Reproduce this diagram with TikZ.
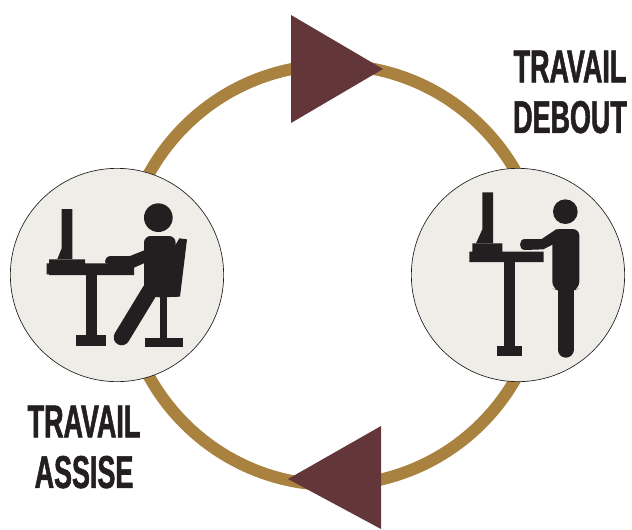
\documentclass[tikz,border=0pt]{standalone}
\usepackage{fontspec}
\newfontfamily\labelfont{Liberation Sans}[FakeStretch=0.585,FakeBold=1.2]
\definecolor{ringgold}{HTML}{A98240}
\definecolor{arrowwine}{HTML}{63363A}
\definecolor{discgrey}{HTML}{EEEDE8}
\definecolor{iconblack}{HTML}{231F20}
\tikzset{
  ringline/.style={
    circle, draw=ringgold, line width=9pt, minimum size=315pt, inner sep=0pt
  },
  workdisc/.style={
    circle, draw=iconblack, fill=discgrey, line width=0.5pt, minimum size=160pt, inner sep=0pt
  },
  turnarrow/.style={
    fill=arrowwine
  },
  iconpart/.style={
    fill=iconblack
  },
  iconlimb/.style={
    draw=iconblack, line width=12pt, line cap=round
  },
  worklabel/.style={
    font=\labelfont\bfseries\fontsize{34.5pt}{38pt}\selectfont, text=iconblack,
    align=center, inner sep=0pt
  },
}
\begin{document}
\begin{tikzpicture}[x=0.75pt,y=-0.75pt]
  \useasboundingbox (0,0) rectangle (632,529);

  % Ring
  \node[ringline] (ring) at (333,275) {};

  % Turning arrows
  \fill[turnarrow] (291,15) -- (383,69) -- (291,123) -- cycle;
  \fill[turnarrow] (381,426) -- (288,479) -- (381,529) -- cycle;

  % 2 Discs
  \node[workdisc] (seated) at (117,275) {};
  \node[workdisc] (standing) at (518,275) {};

  % Seated worker
  \begin{scope}[shift={(0,160)},x=0.25pt,y=-0.25pt]
    \fill[iconpart] (185,147) -- (217,147) -- (217,297) -- (172,297) -- (185,265) -- cycle;
    \fill[iconpart] (147,298) -- (255,298) -- (255,310) -- (402,310) -- (402,345) -- (147,345) -- (147,343) -- (140,343) -- (140,310) -- (147,310) -- cycle;
    \fill[iconpart] (257,340) rectangle (292,530);
    \fill[iconpart] (229,525) rectangle (319,557);
    \fill[iconpart] (475,173) circle[radius=10.75pt];
    \fill[iconpart] (538,235) -- (561,238) -- (540,410) -- (480,412) -- (500,300) -- cycle;
    \fill[iconpart] (480,405) rectangle (502,540);
    \fill[iconpart] (435,535) rectangle (548,560);
    \fill[iconpart, rounded corners=5pt] (432,400) -- (432,228) -- (527,228) -- (527,400) -- (510,412) -- (460,412) -- cycle;
    \fill[iconpart] (440,268) -- (390,288) -- (330,288) .. controls (318,290) and (314,300) .. (316,310) -- (402,323) -- (440,306) -- cycle;
    \draw[iconlimb] (450,392) -- (365,532);
  \end{scope}

  % Standing worker
  \begin{scope}[shift={(400,160)},x=0.25pt,y=-0.25pt]
    \fill[iconpart] (247,97) -- (279,97) -- (279,250) -- (228,250) -- (247,208) -- cycle;
    \fill[iconpart] (217,250) -- (307,250) -- (307,275) -- (431,275) -- (431,306) -- (208,306) -- (208,275) -- (217,275) -- cycle;
    \fill[iconpart] (312,300) rectangle (345,560);
    \fill[iconpart] (290,557) rectangle (367,589);
    \fill[iconpart] (496,155) circle[radius=9.25pt];
    \fill[iconpart, rounded corners=5pt] (457,385) -- (457,207) -- (538,207) -- (538,385) -- (520,392) -- (475,392) -- cycle;
    \fill[iconpart] (470,207) -- (425,237) -- (375,237) .. controls (355,237) and (355,270) .. (375,270) -- (430,268) -- (465,250) -- cycle;
    \draw[iconlimb] (497,380) -- (497,569);
  \end{scope}

  % Labels
  \node[worklabel] (standlabel) at (570,92) {TRAVAIL\\DEBOUT};
  \node[worklabel] (sitlabel) at (84,447) {TRAVAIL\\ASSISE};
\end{tikzpicture}
\end{document}
